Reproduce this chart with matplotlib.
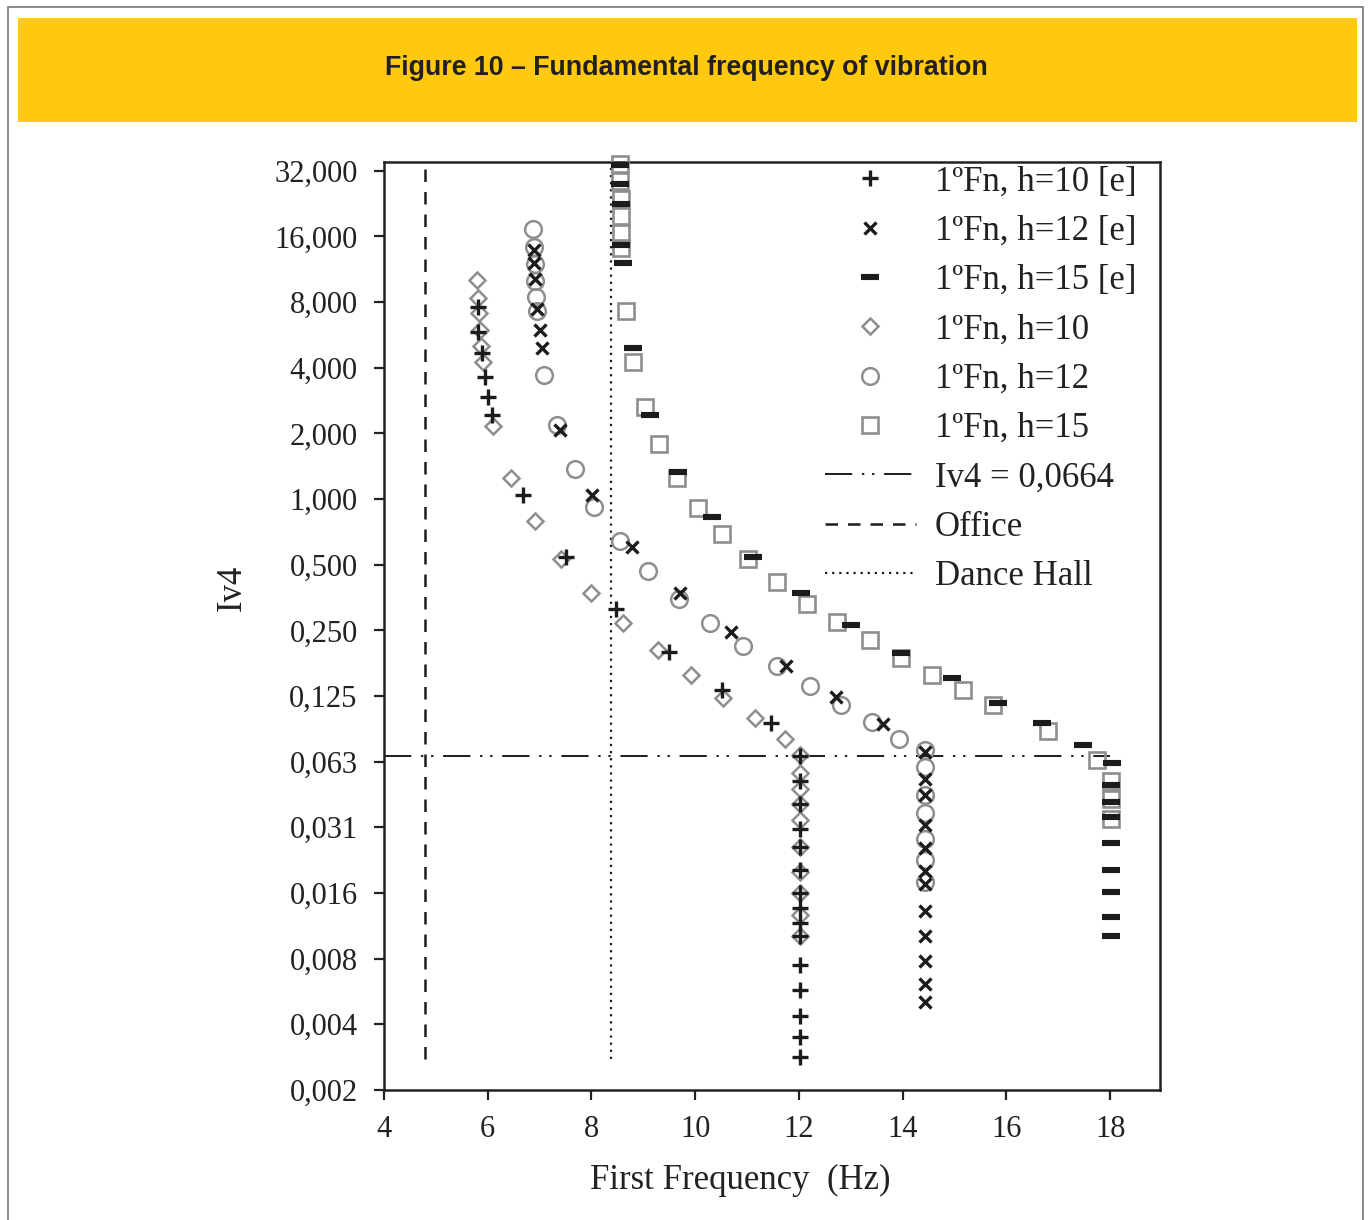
import numpy as np
import matplotlib.pyplot as plt
from matplotlib.patches import Rectangle

# values (Iv4 vs first frequency)
plus_x = [5.82, 5.82, 5.88, 5.95, 6.01, 6.08, 6.68, 7.51, 8.47, 9.50, 10.52, 11.46,
          12.02, 12.02, 12.02, 12.02, 12.02, 12.02, 12.02, 12.02, 12.02, 12.02,
          12.02, 12.02, 12.02, 12.02, 12.02]
plus_y = [7.63, 5.86, 4.66, 3.64, 2.95, 2.43, 1.04, 0.543, 0.3125, 0.199, 0.133, 0.0938,
          0.0662, 0.0508, 0.0398, 0.0308, 0.0254, 0.0200, 0.01556, 0.0134, 0.01144, 0.00997,
          0.00729, 0.00559, 0.00428, 0.00343, 0.00278]

cross_x = [6.89, 6.89, 6.91, 6.95, 7.01, 7.05, 7.39, 8.01, 8.78, 9.71, 10.69, 11.75, 12.72, 13.62,
           14.43, 14.43, 14.43, 14.43, 14.43, 14.43, 14.43, 14.43, 14.43, 14.43, 14.43, 14.43]
cross_y = [13.9, 12.1, 10.2, 7.44, 5.96, 4.93, 2.07, 1.04, 0.603, 0.371, 0.245, 0.171, 0.1235, 0.0928,
           0.0690, 0.0519, 0.0438, 0.0319, 0.0250, 0.0198, 0.0171, 0.01298, 0.00988, 0.00766,
           0.0060, 0.00492]

dash_x = [8.55, 8.55, 8.57, 8.57, 8.61, 8.80, 9.13, 9.67, 10.32, 11.12, 12.04, 13.00, 13.97,
          14.95, 15.84, 16.69, 17.48, 18.04,
          18.02, 18.02, 18.02, 18.02, 18.02, 18.02, 18.02, 18.02]
dash_y = [34.1, 27.9, 22.6, 14.6, 12.1, 4.93, 2.43, 1.33, 0.827, 0.542, 0.370, 0.264, 0.196,
          0.151, 0.1164, 0.0939, 0.0743, 0.0615,
          0.0487, 0.0409, 0.0347, 0.0266, 0.0200, 0.01573, 0.01218, 0.00989]

diamond_x = [5.79, 5.81, 5.83, 5.85, 5.87, 5.91, 6.10, 6.45, 6.91, 7.41, 8.00, 8.61, 9.29, 9.92,
             10.54, 11.15, 11.73,
             12.02, 12.02, 12.02, 12.02, 12.02, 12.02, 12.02, 12.02, 12.02, 12.02]
diamond_y = [10.1, 8.36, 7.14, 5.96, 5.04, 4.26, 2.16, 1.25, 0.796, 0.531, 0.371, 0.270, 0.204,
             0.156, 0.1225, 0.0994, 0.0798,
             0.0669, 0.0553, 0.0467, 0.0398, 0.0337, 0.0254, 0.0196, 0.01556, 0.01235, 0.00997]

circle_x = [6.87, 6.89, 6.91, 6.91, 6.93, 6.95, 7.09, 7.34, 7.68, 8.05, 8.55, 9.09, 9.69, 10.29,
            10.92, 11.58, 12.21, 12.81, 13.41, 13.93,
            14.43, 14.43, 14.43, 14.43, 14.43, 14.43, 14.43]
circle_y = [17.3, 14.3, 12.0, 10.0, 8.45, 7.29, 3.71, 2.19, 1.37, 0.919, 0.641, 0.466, 0.348,
            0.270, 0.213, 0.171, 0.1385, 0.1134, 0.0947, 0.0792,
            0.0705, 0.0589, 0.0438, 0.0362, 0.0277, 0.0221, 0.01748]

square_x = [8.55, 8.55, 8.57, 8.57, 8.57, 8.57, 8.67, 8.80, 9.03, 9.30, 9.65, 10.06, 10.52,
            11.02, 11.58, 12.16, 12.74, 13.37, 13.97, 14.57, 15.16, 15.74, 16.80, 17.75,
            18.02, 18.02, 18.02]
square_y = [34.4, 28.8, 23.8, 19.9, 16.6, 14.2, 7.29, 4.25, 2.64, 1.79, 1.25, 0.909, 0.691,
            0.531, 0.415, 0.330, 0.2726, 0.225, 0.1866, 0.156, 0.1328, 0.1134, 0.086, 0.0639,
            0.0507, 0.0420, 0.0340]

iv4_limit = 0.0664
office_freq = 4.79
dance_freq = 8.38
limit_x = [4, 18]
limit_y = [0.0027, 34]

yticks = [32 / 2 ** n for n in range(15)]
ytick_labels = ['32,000', '16,000', '8,000', '4,000', '2,000', '1,000', '0,500', '0,250',
                '0,125', '0,063', '0,031', '0,016', '0,008', '0,004', '0,002']
xticks = [4, 6, 8, 10, 12, 14, 16, 18]

plt.rcParams['font.family'] = ['Liberation Serif', 'DejaVu Serif']

fig = plt.figure(figsize=(13.71, 12.2), dpi=100)
ax = fig.add_axes([0.2801, 0.1066, 0.5660, 0.7606])

# yellow title banner and thin outer frame
fig.patches.append(Rectangle((0.0131, 0.90), 0.9767, 0.0852, transform=fig.transFigure,
                             facecolor='#fec90e', edgecolor='none', zorder=0))
fig.patches.append(Rectangle((0.006, -0.01), 0.988, 1.004, transform=fig.transFigure,
                             facecolor='none', edgecolor='#777777', linewidth=1.2, zorder=0))
fig.text(0.501, 0.944, 'Figure 10 \u2013 Fundamental frequency of vibration',
         family='Liberation Sans', weight='bold', fontsize=19.3, color='#231f20',
         ha='center', va='center')

black = '#1c1c1c'
gray = '#8e8e8e'

ax.plot(plus_x, plus_y, ls='none', marker='+', ms=11.5, mew=2.4, color=black,
        label='1ºFn, h=10 [e]', zorder=5, clip_on=False)
ax.plot(cross_x, cross_y, ls='none', marker='x', ms=8, mew=2.4, color=black,
        label='1ºFn, h=12 [e]', zorder=5, clip_on=False)
ax.plot(dash_x, dash_y, ls='none', marker='_', ms=13, mew=4.4, color=black,
        label='1ºFn, h=15 [e]', zorder=5, clip_on=False)
ax.plot(diamond_x, diamond_y, ls='none', marker='D', ms=8.5, mew=1.8, mfc='none', mec=gray,
        label='1ºFn, h=10', zorder=4, clip_on=False)
ax.plot(circle_x, circle_y, ls='none', marker='o', ms=12, mew=1.8, mfc='none', mec=gray,
        label='1ºFn, h=12', zorder=4, clip_on=False)
ax.plot(square_x, square_y, ls='none', marker='s', ms=11.5, mew=1.9, mfc='none', mec=gray,
        label='1ºFn, h=15', zorder=4, clip_on=False)

ax.plot(limit_x, [iv4_limit, iv4_limit], color=black, lw=1.4,
        ls=(0, (14, 5, 1.2, 4, 1.2, 5)), label='Iv4 = 0,0664', zorder=3)
ax.plot([office_freq, office_freq], limit_y, color=black, lw=1.8,
        ls=(0, (5, 4)), label='Office', zorder=3)
ax.plot([dance_freq, dance_freq], limit_y, color=black, lw=1.6,
        ls=(0, (1, 2.2)), label='Dance Hall', zorder=3)

ax.set_yscale('log', base=2)
ax.set_ylim(32 / 2 ** 14, 35.1)
ax.set_xlim(4, 18.96)
ax.set_yticks(yticks)
ax.set_yticklabels(ytick_labels)
ax.minorticks_off()
ax.set_xticks(xticks)
ax.set_xticklabels([str(t) for t in xticks])

for s in ax.spines.values():
    s.set_linewidth(1.8)
    s.set_color('#222222')
ax.tick_params(axis='both', direction='out', length=7, width=1.6, labelsize=22,
               colors='#222222')
ax.tick_params(axis='y', pad=12)
ax.tick_params(axis='x', pad=11)

fig.text(0.1695, 0.518, 'Iv4', rotation=90, fontsize=25, ha='center', va='center', color='#222222')
fig.text(0.54, 0.032, 'First Frequency  (Hz)', fontsize=25, ha='center', va='center',
         color='#222222')

leg = ax.legend(loc='upper right', bbox_to_anchor=(0.974, 1.0), frameon=False, fontsize=25,
                handlelength=2.6, handletextpad=0.55, labelspacing=0.47, borderpad=0.1,
                borderaxespad=0.0)
for t in leg.get_texts():
    t.set_color('#222222')

fig.savefig('out.png', dpi=100)
